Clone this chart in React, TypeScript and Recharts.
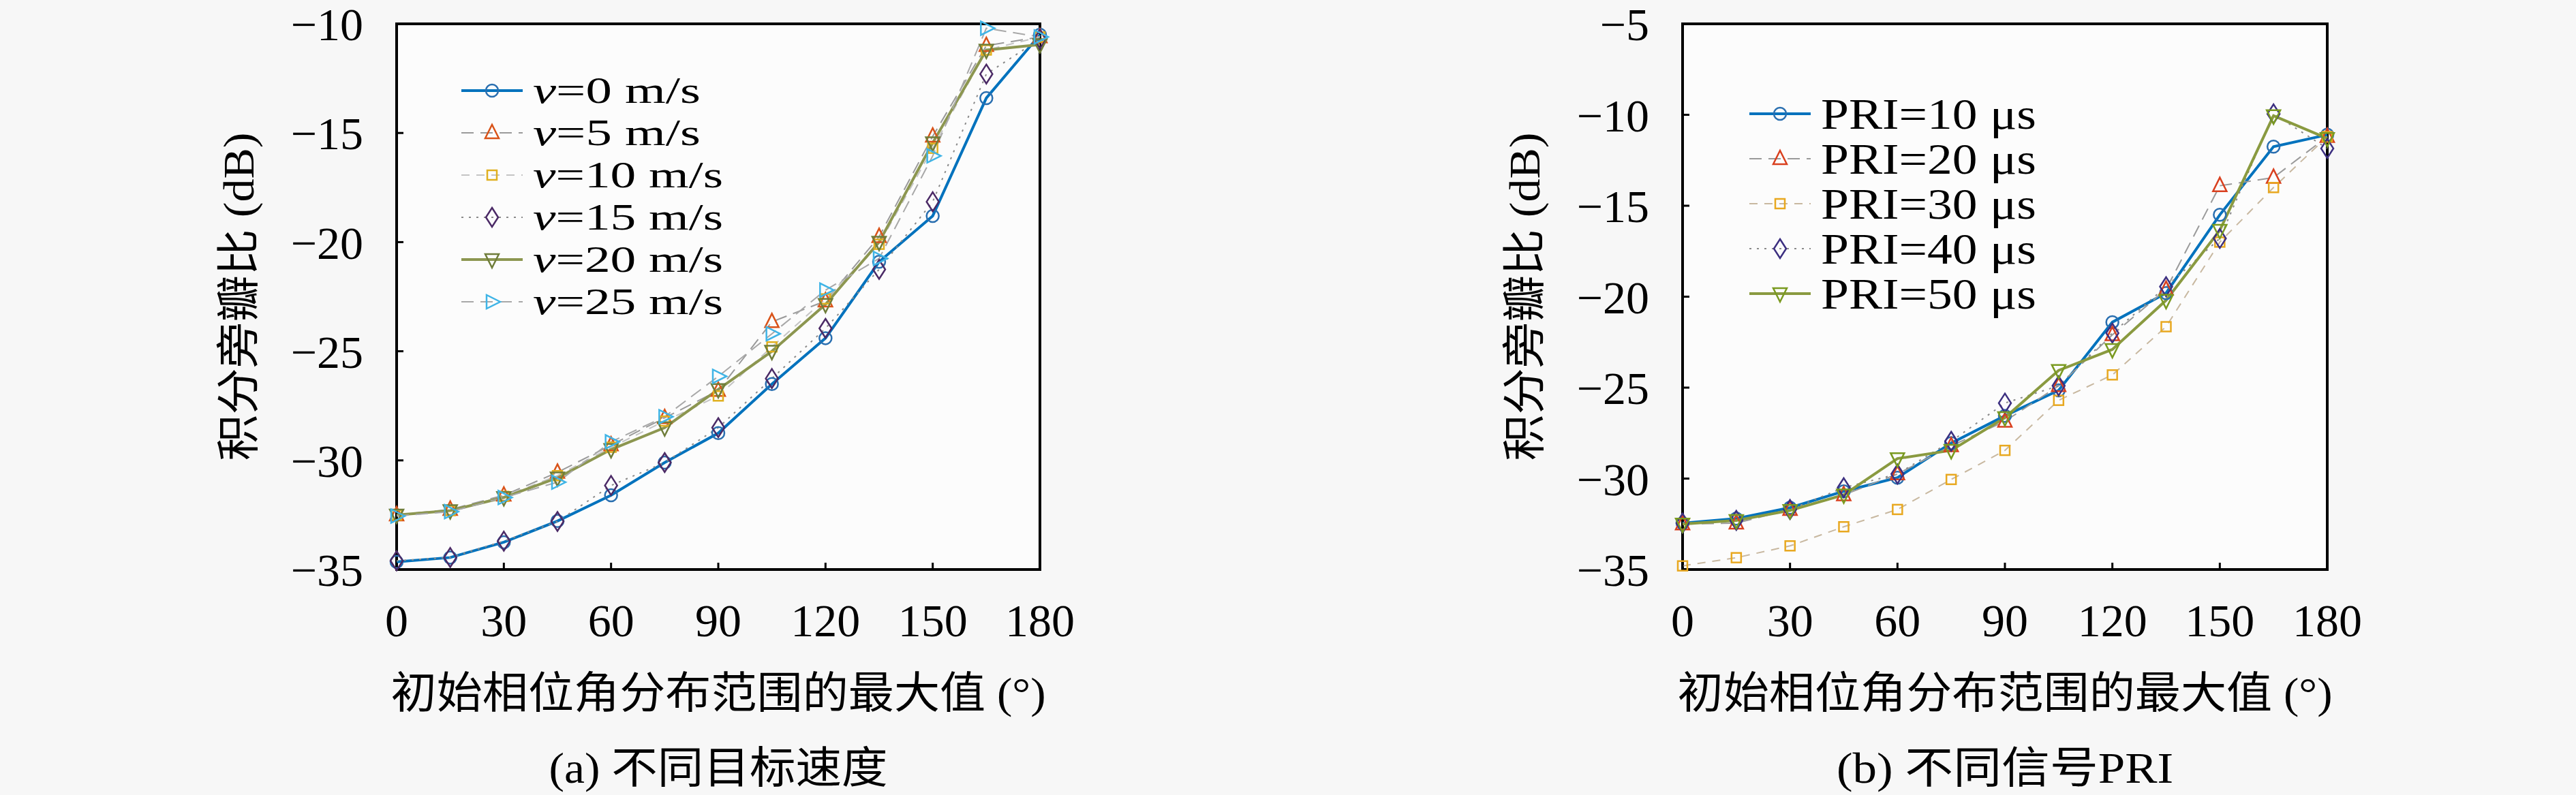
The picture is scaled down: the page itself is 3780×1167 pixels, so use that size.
import React from 'react';
import { LineChart, Line, XAxis, YAxis, ReferenceArea, Legend, Label, CartesianGrid } from 'recharts';

// x: maximum of the initial phase distribution range (deg)
const angles = [0, 15, 30, 45, 60, 75, 90, 105, 120, 135, 150, 165, 180];

// (a) different target speeds, ISLR in dB
const v0 = [-34.65, -34.45, -33.75, -32.78, -31.6, -30.1, -28.75, -26.5, -24.4, -20.9, -18.8, -13.4, -10.5];
const v5 = [-32.5, -32.25, -31.6, -30.55, -29.3, -28.05, -26.8, -23.65, -22.7, -19.75, -15.15, -11.0, -10.6];
const v10 = [-32.5, -32.3, -31.65, -30.7, -29.4, -28.2, -27.05, -24.8, -22.6, -20.1, -15.7, -11.2, -10.6];
const v15 = [-34.6, -34.45, -33.7, -32.8, -31.15, -30.1, -28.5, -26.25, -23.95, -21.25, -18.15, -12.3, -10.7];
const v20 = [-32.5, -32.3, -31.7, -30.8, -29.5, -28.5, -26.75, -25.0, -22.85, -20.0, -15.45, -11.2, -10.95];
const v25 = [-32.55, -32.35, -31.7, -31.0, -29.15, -28.0, -26.15, -24.2, -22.2, -20.75, -16.05, -10.2, -10.6];

// (b) different PRI, ISLR in dB
const pri10 = [-32.45, -32.2, -31.6, -30.7, -29.95, -28.05, -26.55, -25.15, -21.4, -19.8, -15.5, -11.75, -11.1];
const pri20 = [-32.5, -32.45, -31.7, -30.9, -29.75, -28.2, -26.85, -24.9, -22.1, -19.6, -13.9, -13.45, -11.2];
const pri30 = [-34.8, -34.35, -33.7, -32.65, -31.7, -30.05, -28.45, -25.7, -24.3, -21.65, -17.0, -14.0, -11.2];
const pri40 = [-32.45, -32.3, -31.7, -30.5, -29.75, -27.95, -25.85, -24.9, -22.0, -19.45, -16.8, -9.95, -11.85];
const pri50 = [-32.5, -32.3, -31.75, -30.9, -28.9, -28.45, -26.65, -24.05, -22.9, -20.2, -16.35, -10.05, -11.3];

const speedLabels = ['0', '5', '10', '15', '20', '25'];
const priLabels = ['10', '20', '30', '40', '50'];

const xTicks = [0, 30, 60, 90, 120, 150, 180];
const yTicksA = [-35, -30, -25, -20, -15, -10];
const yTicksB = [-35, -30, -25, -20, -15, -10, -5];

const xTitle = '初始相位角分布范围的最大值 (°)';
const yTitle = '积分旁瓣比 (dB)';
const captionA = '(a) 不同目标速度';
const captionB = '(b) 不同信号PRI';

const SERIF = "'Liberation Serif', 'Noto Sans CJK SC', serif";

type Shape = 'circle' | 'up' | 'square' | 'diamond' | 'down' | 'right';

interface SeriesDef {
  key: string;
  values: number[];
  stroke: string;
  width: number;
  dash?: string;
  shape: Shape;
  markerColor: string;
}

function Marker({ shape, cx, cy, color }: { shape: Shape; cx: number; cy: number; color: string }) {
  const common = { fill: 'none', stroke: color, strokeWidth: 2.5 };
  switch (shape) {
    case 'circle':
      return <circle cx={cx} cy={cy} r={9} {...common} />;
    case 'up':
      return <polygon points={`${cx},${cy - 12} ${cx + 10},${cy + 8} ${cx - 10},${cy + 8}`} {...common} />;
    case 'down':
      return <polygon points={`${cx},${cy + 12} ${cx + 10},${cy - 8} ${cx - 10},${cy - 8}`} {...common} />;
    case 'right':
      return <polygon points={`${cx + 12},${cy} ${cx - 8},${cy - 10} ${cx - 8},${cy + 10}`} {...common} />;
    case 'square':
      return <rect x={cx - 7} y={cy - 7} width={14} height={14} {...common} />;
    case 'diamond':
    default:
      return <polygon points={`${cx},${cy - 14} ${cx + 9},${cy} ${cx},${cy + 14} ${cx - 9},${cy}`} {...common} />;
  }
}

const seriesA: SeriesDef[] = [
  { key: 's0', values: v0, stroke: '#0072BD', width: 4, shape: 'circle', markerColor: '#2a6fb0' },
  { key: 's1', values: v5, stroke: '#9a9a9a', width: 2, dash: '18 10', shape: 'up', markerColor: '#D95319' },
  { key: 's2', values: v10, stroke: '#c4c4c4', width: 2, dash: '12 10', shape: 'square', markerColor: '#E0B020' },
  { key: 's3', values: v15, stroke: '#8a8a8a', width: 2, dash: '3 8', shape: 'diamond', markerColor: '#4b2a66' },
  { key: 's4', values: v20, stroke: '#8c9650', width: 4, shape: 'down', markerColor: '#6f7d3a' },
  { key: 's5', values: v25, stroke: '#a8a8a8', width: 2, dash: '18 10', shape: 'right', markerColor: '#3fb4e6' },
];

const seriesB: SeriesDef[] = [
  { key: 's0', values: pri10, stroke: '#0072BD', width: 4, shape: 'circle', markerColor: '#2a6fb0' },
  { key: 's1', values: pri20, stroke: '#9a9a9a', width: 2, dash: '18 10', shape: 'up', markerColor: '#D9401F' },
  { key: 's2', values: pri30, stroke: '#c8b8a0', width: 2, dash: '12 10', shape: 'square', markerColor: '#E8A820' },
  { key: 's3', values: pri40, stroke: '#8a8a8a', width: 2, dash: '3 8', shape: 'diamond', markerColor: '#3c2f80' },
  { key: 's4', values: pri50, stroke: '#8a9a40', width: 4, shape: 'down', markerColor: '#7a9a20' },
];

function buildRows(series: SeriesDef[]) {
  return angles.map((a, i) => {
    const row: Record<string, number> = { angle: a };
    series.forEach((s) => {
      row[s.key] = s.values[i];
    });
    return row;
  });
}

const minus = (v: number) => String(v).replace('-', '\u2212');

interface LegendProps {
  series: SeriesDef[];
  labels: React.ReactNode[];
  rowGap: number;
  fontSize: number;
  textLength: number[];
}

function LegendBox({ series, labels, rowGap, fontSize, textLength }: LegendProps) {
  return (
    <svg width={480} height={420} style={{ overflow: 'visible' }}>
      {series.map((s, i) => {
        const y = 35 + i * rowGap;
        return (
          <g key={s.key}>
            <line x1={7} x2={97} y1={y} y2={y} stroke={s.stroke} strokeWidth={s.width} strokeDasharray={s.dash} />
            <Marker shape={s.shape} cx={52} cy={y} color={s.markerColor} />
            <text
              x={112}
              y={y}
              dominantBaseline="central"
              fontSize={fontSize}
              fontFamily={SERIF}
              fill="#000"
              textLength={textLength[i]}
              lengthAdjust="spacingAndGlyphs"
            >
              {labels[i]}
            </text>
          </g>
        );
      })}
    </svg>
  );
}

interface PanelProps {
  series: SeriesDef[];
  yDomain: [number, number];
  yTicks: number[];
  caption: string;
  captionLength: number;
  margin: { top: number; right: number; bottom: number; left: number };
  legend: LegendProps;
  legendTop: number;
}

function Panel({ series, yDomain, yTicks, caption, captionLength, margin, legend, legendTop }: PanelProps) {
  const data = buildRows(series);
  return (
    <LineChart width={1600} height={1167} data={data} margin={margin}>
      <CartesianGrid horizontal={false} vertical={false} fill="#fcfcfc" />
      <XAxis
        type="number"
        dataKey="angle"
        domain={[0, 180]}
        ticks={xTicks}
        height={100}
        axisLine={false}
        tickSize={-10}
        tickMargin={60}
        tickLine={{ stroke: '#000', strokeWidth: 3 }}
        tick={{ fill: '#000', fontSize: 68, fontFamily: SERIF }}
        interval={0}
      >
        <Label
          content={(props: any) => {
            const vb = props.viewBox || {};
            const cx = vb.x + vb.width / 2;
            return (
              <g>
                <text x={cx} y={1017} textAnchor="middle" dominantBaseline="central" fontSize={64}
                  fontFamily={SERIF} fill="#000" textLength={961} lengthAdjust="spacingAndGlyphs">
                  {xTitle}
                </text>
                <text x={cx} y={1127} textAnchor="middle" dominantBaseline="central" fontSize={64}
                  fontFamily={SERIF} fill="#000" textLength={captionLength} lengthAdjust="spacingAndGlyphs">
                  {caption}
                </text>
              </g>
            );
          }}
        />
      </XAxis>
      <YAxis
        type="number"
        domain={yDomain}
        ticks={yTicks}
        width={200}
        axisLine={false}
        tickSize={-10}
        tickMargin={59}
        tickLine={{ stroke: '#000', strokeWidth: 3 }}
        tick={{ fill: '#000', fontSize: 68, fontFamily: SERIF }}
        tickFormatter={minus}
        interval={0}
      >
        <Label
          content={(props: any) => {
            const vb = props.viewBox || {};
            const cx = vb.x - 32;
            const cy = vb.y + vb.height / 2;
            return (
              <text x={cx} y={cy} transform={`rotate(-90 ${cx} ${cy})`} textAnchor="middle"
                dominantBaseline="central" fontSize={64} fontFamily={SERIF} fill="#000"
                textLength={482} lengthAdjust="spacingAndGlyphs">
                {yTitle}
              </text>
            );
          }}
        />
      </YAxis>
      <ReferenceArea x1={0} x2={180} y1={yDomain[0]} y2={yDomain[1]} fill="none" stroke="#000" strokeWidth={4} ifOverflow="visible" />
      {series.map((s) => (
        <Line
          key={s.key}
          dataKey={s.key}
          type="linear"
          stroke={s.stroke}
          strokeWidth={s.width}
          strokeDasharray={s.dash}
          isAnimationActive={false}
          dot={(p: any) => (
            <Marker key={`${s.key}-${p.index}`} shape={s.shape} cx={p.cx} cy={p.cy} color={s.markerColor} />
          )}
          activeDot={false}
        />
      ))}
      <Legend
        layout="horizontal"
        verticalAlign="middle"
        align="center"
        content={() => <LegendBox {...legend} />}
        wrapperStyle={{ position: 'absolute', left: 670, top: legendTop, width: 480, height: 420 }}
      />
    </LineChart>
  );
}

const speedNodes = speedLabels.map((v) => (
  <>
    <tspan fontStyle="italic">v</tspan>
    {`=${v} m/s`}
  </>
));
const priNodes = priLabels.map((v) => `PRI=${v} \u03bcs`);

export default function App() {
  return (
    <div style={{ position: 'absolute', left: 0, top: 0, width: 3780, height: 1167, background: '#f7f7f7', overflow: 'hidden' }}>
      <div style={{ position: 'absolute', left: 0, top: 0 }}>
        <Panel
          series={seriesA}
          yDomain={[-35, -10]}
          yTicks={yTicksA}
          caption={captionA}
          captionLength={497}
          margin={{ top: 35, right: 74, bottom: 231, left: 382 }}
          legend={{ series: seriesA, labels: speedNodes, rowGap: 62, fontSize: 54, textLength: [246, 246, 279, 279, 279, 279] }}
          legendTop={98}
        />
      </div>
      <div style={{ position: 'absolute', left: 1890, top: 0 }}>
        <Panel
          series={seriesB}
          yDomain={[-35, -5]}
          yTicks={yTicksB}
          caption={captionB}
          captionLength={494}
          margin={{ top: 35, right: 75, bottom: 231, left: 379 }}
          legend={{ series: seriesB, labels: priNodes, rowGap: 66, fontSize: 64, textLength: [316, 316, 316, 316, 316] }}
          legendTop={132}
        />
      </div>
    </div>
  );
}
